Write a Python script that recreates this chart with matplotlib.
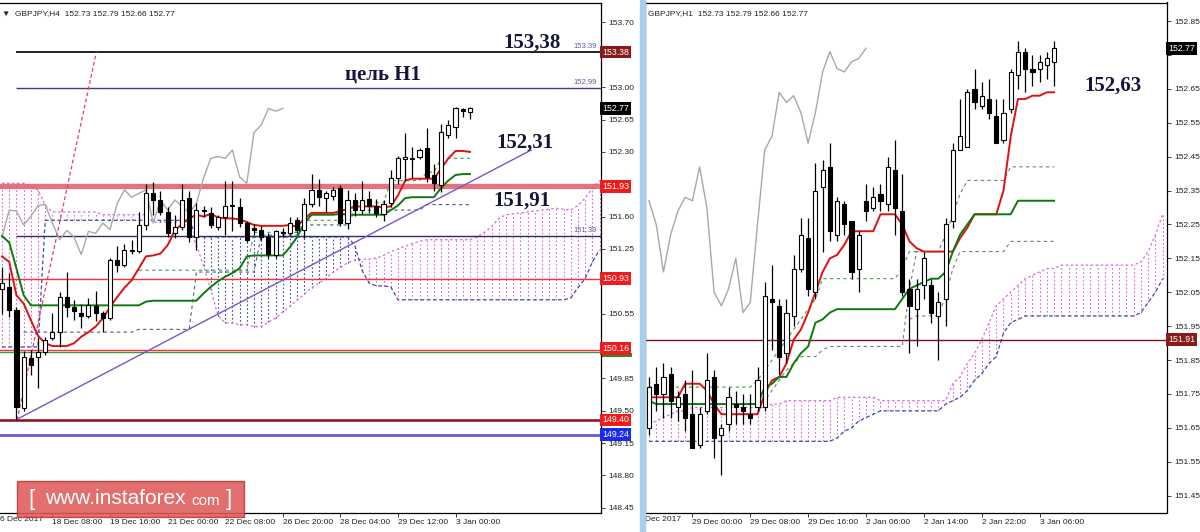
import matplotlib
matplotlib.use("Agg")
import matplotlib.pyplot as plt
import numpy as np
from matplotlib.patches import Rectangle

plt.rcParams["font.family"] = ["Liberation Sans", "DejaVu Sans"]

# ---------------- GBPJPY H4 (left panel) ----------------
h4_open = [150.82, 150.84, 150.59, 149.53, 150.07, 150.08, 150.13, 150.29, 150.35, 150.73,
           150.62, 150.56, 150.53, 150.63, 150.56, 150.50, 151.13, 151.08, 151.24, 151.23,
           151.51, 151.85, 151.78, 151.65, 151.42, 151.49, 151.80, 151.38, 151.67, 151.64,
           151.49, 151.60, 151.72, 151.70, 151.53, 151.48, 151.45, 151.38, 151.18, 151.43,
           151.42, 151.56, 151.46, 151.74, 151.89, 151.80, 151.82, 151.91, 151.53, 151.78,
           151.67, 151.79, 151.71, 151.63, 151.75, 152.02, 152.22, 152.22, 152.25, 152.34,
           152.05, 151.94, 152.48, 152.57, 152.76, 152.73]
h4_high = [151.05, 150.99, 150.62, 150.15, 150.16, 150.29, 150.30, 150.56, 150.78, 151.00,
           150.70, 150.65, 150.72, 150.80, 150.58, 151.15, 151.28, 151.30, 151.35, 151.65,
           151.95, 151.97, 151.88, 151.70, 151.62, 151.95, 151.88, 151.75, 151.72, 151.70,
           151.62, 151.99, 151.99, 151.80, 151.55, 151.52, 151.50, 151.42, 151.46, 151.48,
           151.60, 151.60, 151.80, 152.06, 152.01, 151.88, 151.92, 151.94, 151.89, 151.86,
           151.99, 151.88, 151.79, 151.78, 152.10, 152.26, 152.50, 152.35, 152.34, 152.56,
           152.17, 152.60, 152.64, 152.79, 152.77, 152.79]
h4_low = [150.55, 150.51, 149.40, 149.50, 149.89, 149.75, 150.10, 150.26, 150.19, 150.51,
          150.48, 150.40, 150.50, 150.47, 150.35, 150.48, 151.00, 151.05, 151.20, 151.21,
          151.46, 151.62, 151.62, 151.38, 151.37, 151.46, 151.33, 151.24, 151.60, 151.48,
          151.46, 151.40, 151.44, 151.49, 151.33, 151.40, 151.35, 151.15, 151.15, 151.38,
          151.40, 151.42, 151.37, 151.70, 151.72, 151.65, 151.78, 151.50, 151.47, 151.61,
          151.63, 151.64, 151.60, 151.55, 151.70, 151.95, 151.99, 152.02, 152.22, 151.97,
          151.88, 151.87, 152.45, 152.45, 152.68, 152.66]
h4_close = [150.88, 150.59, 149.54, 150.08, 149.99, 150.13, 150.26, 150.35, 150.73, 150.62,
            150.58, 150.53, 150.64, 150.56, 150.50, 151.13, 151.08, 151.24, 151.23, 151.51,
            151.85, 151.78, 151.65, 151.42, 151.49, 151.78, 151.38, 151.67, 151.66, 151.51,
            151.60, 151.72, 151.73, 151.53, 151.35, 151.45, 151.38, 151.19, 151.44, 151.42,
            151.53, 151.46, 151.74, 151.89, 151.81, 151.85, 151.89, 151.53, 151.78, 151.67,
            151.78, 151.71, 151.64, 151.74, 152.02, 152.23, 152.25, 152.23, 152.32, 152.03,
            151.96, 152.51, 152.59, 152.77, 152.74, 152.77]
h4_tenkan = [151.17, 151.11, 150.75, 150.66, 150.48, 150.31, 150.23, 150.20, 150.20, 150.20,
             150.23, 150.30, 150.35, 150.41, 150.50, 150.62, 150.73, 150.83, 150.91, 151.04,
             151.17, 151.18, 151.20, 151.29, 151.45, 151.52, 151.58, 151.62, 151.60, 151.63,
             151.59, 151.58, 151.58, 151.57, 151.54, 151.51, 151.50, 151.50, 151.50, 151.50,
             151.51, 151.49, 151.58, 151.64, 151.64, 151.64, 151.64, 151.66, 151.68, 151.71,
             151.71, 151.71, 151.71, 151.70, 151.71, 151.83, 151.99, 152.01, 152.01, 152.01,
             152.01, 152.12, 152.23, 152.31, 152.31, 152.30]
h4_kijun = [151.39, 151.32, 151.04, 150.75, 150.64, 150.64, 150.64, 150.64, 150.64, 150.64,
            150.64, 150.64, 150.64, 150.64, 150.64, 150.64, 150.64, 150.64, 150.64, 150.64,
            150.68, 150.69, 150.69, 150.69, 150.69, 150.69, 150.69, 150.69, 150.77, 150.84,
            150.90, 150.95, 150.99, 151.04, 151.17, 151.18, 151.18, 151.18, 151.18, 151.18,
            151.27, 151.38, 151.53, 151.62, 151.62, 151.62, 151.62, 151.63, 151.62, 151.62,
            151.62, 151.62, 151.62, 151.62, 151.67, 151.72, 151.80, 151.81, 151.81, 151.81,
            151.81, 151.91, 151.99, 152.05, 152.06, 152.06]
h4_span_a = [151.96, 151.96, 151.96, 151.96, 151.92, 151.89, 151.72, 151.65, 151.65, 151.65,
             151.65, 151.65, 151.65, 151.65, 151.62, 151.62, 151.62, 151.62, 151.62, 151.62,
             151.62, 151.54, 151.54, 151.54, 151.54, 151.54, 151.47, 151.29, 151.07, 150.81,
             150.53, 150.45, 150.45, 150.43, 150.43, 150.41, 150.41, 150.46, 150.50, 150.57,
             150.63, 150.70, 150.76, 150.83, 150.88, 150.93, 151.00, 151.05, 151.10, 151.13,
             151.14, 151.14, 151.15, 151.18, 151.22, 151.25, 151.28, 151.31, 151.33, 151.35,
             151.35, 151.35, 151.35, 151.35, 151.35, 151.35, 151.38, 151.43, 151.49, 151.58,
             151.62, 151.63, 151.64, 151.65, 151.66, 151.67, 151.68, 151.69, 151.68, 151.67,
             151.72, 151.80, 151.91, 151.99]
h4_span_b = [150.19, 150.19, 150.19, 150.19, 150.19, 150.19, 151.56, 151.56, 151.56, 151.56,
             151.56, 151.56, 151.56, 151.56, 151.56, 151.56, 151.56, 151.56, 151.56, 151.56,
             151.56, 151.56, 151.56, 151.56, 151.56, 151.56, 151.56, 151.38, 151.38, 151.38,
             151.38, 151.38, 151.38, 151.38, 151.38, 151.38, 151.38, 151.38, 151.38, 151.38,
             151.38, 151.38, 151.38, 151.38, 151.38, 151.38, 151.38, 151.38, 151.38, 151.29,
             151.02, 150.88, 150.85, 150.85, 150.84, 150.70, 150.70, 150.70, 150.70, 150.70,
             150.70, 150.70, 150.70, 150.70, 150.70, 150.70, 150.70, 150.70, 150.70, 150.70,
             150.70, 150.70, 150.70, 150.70, 150.70, 150.70, 150.70, 150.70, 150.70, 150.72,
             150.83, 150.93, 151.11, 151.24]
# dashed helper lines (first bar index, values)
h4_dash_dark_start = 3
h4_dash_dark = [150.35, 150.35, 150.35, 150.35, 150.35, 150.35, 150.35, 150.35, 150.35, 150.35,
                150.35, 150.35, 150.35, 150.35, 150.35, 150.35, 150.38, 150.38, 150.38, 150.38,
                150.38, 150.38, 150.38, 150.38, 151.00, 151.00, 151.00, 151.00, 151.00, 151.00,
                151.00, 151.00, 151.00, 151.40, 151.40, 151.40, 151.40, 151.40, 151.40, 151.51,
                151.51, 151.51, 151.51, 151.51, 151.51, 151.51, 151.67, 151.67, 151.67, 151.67,
                151.67, 151.67, 151.67, 151.67, 151.67, 151.67, 151.73, 151.73, 151.73, 151.73,
                151.73, 151.73, 151.73]
h4_dash_green_start = 19
h4_dash_green = [151.02, 151.02, 151.02, 151.02, 151.02, 151.02, 151.02, 151.02, 151.02, 151.02,
                 151.02, 151.02, 151.02, 151.02, 151.02, 151.02, 151.43, 151.43, 151.43, 151.43,
                 151.43, 151.43, 151.43, 151.56, 151.56, 151.56, 151.56, 151.56, 151.56, 151.56,
                 151.75, 151.75, 151.75, 151.75, 151.75, 151.99, 151.99, 151.99, 151.99, 151.99,
                 152.08, 152.08, 152.23, 152.23, 152.23, 152.23, 152.23]
h4_tick_pos = [7, 15, 23, 31, 39, 47, 55, 63]
h4_tick_labels = ["18 Dec 08:00", "19 Dec 16:00", "21 Dec 00:00", "22 Dec 08:00",
                  "26 Dec 20:00", "28 Dec 04:00", "29 Dec 12:00", "3 Jan 00:00"]
h4_yticks = [148.45, 148.80, 149.15, 149.50, 149.85, 150.20, 150.55, 150.90, 151.25,
             151.60, 151.95, 152.30, 152.65, 153.00, 153.35, 153.70]
h4_hidden_ticks = [150.20, 150.90, 151.95, 153.35]   # covered by the price tags
h4_levels = [153.38, 152.99, 151.93, 151.39, 150.93, 150.16, 150.13, 149.40, 149.24]
h4_level_tags = ["153.39", "152.99", "", "151.39", "", "", "", "", ""]

# ---------------- GBPJPY H1 (right panel) ----------------
h1_open = [151.65, 151.78, 151.75, 151.81, 151.71, 151.75, 151.69, 151.60, 151.70, 151.80,
           151.63, 151.66, 151.72, 151.71, 151.69, 151.71, 151.71, 152.03, 152.01, 151.87,
           151.98, 152.12, 152.21, 152.05, 152.36, 152.42, 152.22, 152.31, 152.26, 152.12,
           152.32, 152.30, 152.34, 152.31, 152.41, 152.29, 152.06, 152.00, 152.07, 152.07,
           151.98, 152.03, 152.26, 152.47, 152.48, 152.65, 152.60, 152.62, 152.57, 152.50,
           152.59, 152.69, 152.76, 152.71, 152.71, 152.72, 152.73]
h1_high = [151.80, 151.83, 151.84, 151.83, 151.76, 151.79, 151.82, 151.71, 151.87, 151.82,
           151.66, 151.77, 151.76, 151.75, 151.75, 151.83, 152.08, 152.13, 152.03, 152.03,
           152.16, 152.27, 152.27, 152.43, 152.44, 152.49, 152.33, 152.32, 152.26, 152.23,
           152.37, 152.36, 152.37, 152.45, 152.50, 152.40, 152.09, 152.09, 152.17, 152.09,
           152.05, 152.27, 152.49, 152.62, 152.65, 152.71, 152.67, 152.68, 152.62, 152.62,
           152.71, 152.79, 152.77, 152.75, 152.75, 152.76, 152.79]
h1_low = [151.63, 151.70, 151.68, 151.68, 151.67, 151.64, 151.59, 151.59, 151.69, 151.56,
          151.51, 151.64, 151.66, 151.66, 151.66, 151.70, 151.70, 151.88, 151.81, 151.84,
          151.95, 152.11, 152.04, 152.03, 152.17, 152.20, 152.20, 152.22, 152.09, 152.05,
          152.26, 152.29, 152.29, 152.29, 152.22, 152.04, 151.87, 151.89, 152.03, 151.96,
          151.85, 151.95, 152.24, 152.47, 152.48, 152.59, 152.59, 152.56, 152.49, 152.49,
          152.58, 152.65, 152.64, 152.66, 152.67, 152.68, 152.66]
h1_close = [151.77, 151.75, 151.80, 151.73, 151.74, 151.68, 151.59, 151.69, 151.79, 151.62,
            151.65, 151.74, 151.71, 151.70, 151.68, 151.79, 152.04, 152.02, 151.86, 151.99,
            152.12, 152.22, 152.06, 152.35, 152.41, 152.23, 152.32, 152.25, 152.11, 152.22,
            152.29, 152.33, 152.32, 152.42, 152.30, 152.05, 152.01, 152.06, 152.15, 151.99,
            152.02, 152.25, 152.47, 152.51, 152.64, 152.61, 152.63, 152.58, 152.49, 152.58,
            152.70, 152.76, 152.71, 152.70, 152.73, 152.74, 152.77]
h1_tenkan = [151.74, 151.74, 151.74, 151.74, 151.74, 151.78, 151.78, 151.78, 151.76, 151.72,
             151.69, 151.69, 151.69, 151.69, 151.69, 151.69, 151.75, 151.79, 151.80, 151.84,
             151.91, 151.94, 151.99, 152.05, 152.11, 152.15, 152.16, 152.19, 152.23, 152.23,
             152.23, 152.23, 152.28, 152.28, 152.28, 152.25, 152.20, 152.18, 152.17, 152.17,
             152.17, 152.17, 152.17, 152.21, 152.24, 152.28, 152.28, 152.28, 152.28, 152.35,
             152.51, 152.62, 152.62, 152.63, 152.63, 152.64, 152.64]
h1_kijun = [151.73, 151.72, 151.72, 151.72, 151.72, 151.72, 151.72, 151.72, 151.72, 151.72,
            151.72, 151.72, 151.72, 151.72, 151.72, 151.72, 151.77, 151.78, 151.80, 151.80,
            151.84, 151.87, 151.89, 151.96, 151.97, 151.99, 152.00, 152.00, 152.00, 152.00,
            152.00, 152.00, 152.00, 152.00, 152.00, 152.03, 152.06, 152.07, 152.08, 152.09,
            152.09, 152.11, 152.17, 152.22, 152.25, 152.28, 152.28, 152.28, 152.28, 152.28,
            152.28, 152.32, 152.32, 152.32, 152.32, 152.32, 152.32]
h1_span_a = [151.66, 151.67, 151.68, 151.69, 151.70, 151.70, 151.71, 151.71, 151.71, 151.71,
             151.71, 151.71, 151.71, 151.71, 151.71, 151.71, 151.71, 151.72, 151.72, 151.73,
             151.73, 151.73, 151.73, 151.73, 151.73, 151.73, 151.74, 151.74, 151.74, 151.74,
             151.74, 151.74, 151.73, 151.73, 151.73, 151.73, 151.73, 151.73, 151.73, 151.73,
             151.73, 151.73, 151.78, 151.80, 151.84, 151.87, 151.91, 151.96, 152.01, 152.03,
             152.05, 152.07, 152.09, 152.10, 152.11, 152.12, 152.12, 152.13, 152.13, 152.13,
             152.13, 152.13, 152.13, 152.13, 152.13, 152.13, 152.13, 152.13, 152.14, 152.17,
             152.22, 152.28]
h1_span_b = [151.61, 151.61, 151.61, 151.61, 151.61, 151.61, 151.61, 151.61, 151.61, 151.61,
             151.61, 151.61, 151.61, 151.61, 151.61, 151.61, 151.61, 151.61, 151.61, 151.61,
             151.61, 151.61, 151.61, 151.61, 151.61, 151.61, 151.62, 151.64, 151.65, 151.67,
             151.68, 151.69, 151.70, 151.70, 151.70, 151.70, 151.70, 151.70, 151.70, 151.70,
             151.70, 151.72, 151.73, 151.74, 151.76, 151.79, 151.81, 151.84, 151.86, 151.93,
             151.96, 151.97, 151.98, 151.98, 151.98, 151.98, 151.98, 151.98, 151.98, 151.98,
             151.98, 151.98, 151.98, 151.98, 151.98, 151.98, 151.98, 151.98, 151.99, 152.02,
             152.05, 152.09]
h1_dash_upper_start = 15
h1_dash_upper = [151.71, 151.73, 151.76, 151.79, 151.82, 151.84, 151.86, 151.86, 151.86, 151.88,
                 151.89, 151.89, 151.89, 151.89, 151.89, 151.89, 151.89, 151.89, 151.89, 151.89,
                 151.89, 152.06, 152.17, 152.17, 152.17, 152.17, 152.22, 152.28, 152.34, 152.38,
                 152.38, 152.38, 152.38, 152.38, 152.38, 152.42, 152.42, 152.42, 152.42, 152.42,
                 152.42, 152.42]
h1_dash_lower_start = 36
h1_dash_lower = [151.97, 151.98, 151.98, 151.98, 151.98, 152.04, 152.12, 152.17, 152.17, 152.17,
                 152.17, 152.17, 152.17, 152.17, 152.20, 152.20, 152.20, 152.20, 152.20, 152.20,
                 152.20]
h1_dash_green_start = 0
h1_dash_green = [151.77, 151.77, 151.77, 151.77, 151.77, 151.77, 151.77, 151.77, 151.77, 151.77,
                 151.77, 151.77, 151.77, 151.77, 151.77, 151.79, 151.82, 151.85, 151.88, 151.91,
                 151.94, 151.97, 152.00, 152.03, 152.09, 152.09, 152.09, 152.09, 152.09, 152.09,
                 152.09, 152.09, 152.09, 152.09, 152.09, 152.12, 152.17, 152.17, 152.17, 152.17,
                 152.17]
h1_tick_pos = [6, 14, 22, 30, 38, 46, 54]
h1_tick_labels = ["29 Dec 00:00", "29 Dec 08:00", "29 Dec 16:00", "2 Jan 06:00",
                  "2 Jan 14:00", "2 Jan 22:00", "3 Jan 06:00"]
h1_yticks = [151.45, 151.55, 151.65, 151.75, 151.85, 151.95, 152.05, 152.15, 152.25,
             152.35, 152.45, 152.55, 152.65, 152.75, 152.85]
h1_hidden_ticks = [152.75]
h1_level = 151.91


def draw_candles(ax, o, h, l, c):
    x = np.arange(len(o))
    o, h, l, c = (np.array(v) for v in (o, h, l, c))
    ax.vlines(x, l, h, color="black", lw=0.9, zorder=5)
    up = c >= o
    lo = np.minimum(o, c)
    hgt = np.maximum(np.abs(c - o), 0.004)
    ax.bar(x[up], hgt[up], 0.58, lo[up], color="white", edgecolor="black", lw=0.8, zorder=6)
    ax.bar(x[~up], hgt[~up], 0.58, lo[~up], color="black", edgecolor="black", lw=0.8, zorder=6)


def draw_cloud(ax, a, b):
    x = np.arange(len(a))
    a, b = np.array(a), np.array(b)
    bull = a >= b
    ax.vlines(x[bull], b[bull], a[bull], colors="#e066e0", linestyles=(0, (1.5, 2)), lw=0.8, zorder=1)
    ax.vlines(x[~bull], a[~bull], b[~bull], colors="#3a4ab0", linestyles=(0, (1.5, 2)), lw=0.8, zorder=1)
    ax.plot(x, a, color="#e066e0", ls=(0, (2, 2)), lw=0.9, zorder=1)
    ax.plot(x, b, color="#3a4ab0", ls=(0, (3, 2)), lw=0.9, zorder=1)


def draw_ichimoku(ax, o, h, l, c, tenkan, kijun, span_a, span_b):
    draw_cloud(ax, span_a, span_b)
    cl = np.array(c)
    xs = np.arange(len(cl)) - 26
    ax.plot(xs[26:], cl[26:], color="#a8a8a8", lw=1.0, zorder=3)
    ax.plot(np.arange(len(tenkan)), tenkan, color="#e01010", lw=1.4, zorder=4)
    ax.plot(np.arange(len(kijun)), kijun, color="#0b7a0b", lw=1.4, zorder=4)
    draw_candles(ax, o, h, l, c)


def draw_dashed(ax, start, vals, color):
    ax.plot(np.arange(start, start + len(vals)), vals, color=color, ls=(0, (3, 3)), lw=0.8, zorder=2)


def price_box(ax, y, text, fc, tc="white"):
    ax.text(1.002, y, text, transform=ax.get_yaxis_transform(), fontsize=6.3, color=tc,
            va="center", ha="left", zorder=20, clip_on=False,
            bbox=dict(boxstyle="square,pad=0.22", fc=fc, ec="none"))


def style_axes(ax, yticks, hidden, tick_pos, tick_labels):
    ax.yaxis.tick_right()
    ax.set_yticks(yticks)
    ax.set_yticklabels(["" if v in hidden else "%.2f" % v for v in yticks])
    ax.set_xticks(tick_pos)
    ax.set_xticklabels(tick_labels, ha="left")
    ax.tick_params(axis="y", length=3, width=0.6, pad=2, labelsize=6, colors="#222222")
    ax.tick_params(axis="x", length=3, width=0.6, pad=1.5, labelsize=6, colors="#222222")
    for s in ax.spines.values():
        s.set_linewidth(0.9)
        s.set_color("black")


fig = plt.figure(figsize=(12, 5.32), dpi=100)
fig.patch.set_facecolor("white")
bottom = (532 - 512.5) / 532
height = (512.5 - 2.5) / 532
ax1 = fig.add_axes([0.0, bottom, 601 / 1200, height])
ax2 = fig.add_axes([645 / 1200, bottom, (1167 - 645) / 1200, height])

# ---------- left panel ----------
ax1.set_xlim(-0.28, 83.2)
ax1.set_ylim(148.399, 153.916)
draw_dashed(ax1, h4_dash_dark_start, h4_dash_dark, "#505a78")
draw_dashed(ax1, h4_dash_green_start, h4_dash_green, "#4a9a4a")
draw_ichimoku(ax1, h4_open, h4_high, h4_low, h4_close, h4_tenkan, h4_kijun, h4_span_a, h4_span_b)

lvl_style = [("#101010", 1.3, 1.9), ("#3c3c8c", 1.0, 1.9), ("#e05a6a", 3.8, -1),
             ("#2c2c70", 1.0, 1.9), ("#ff3030", 1.0, -1), ("#ff3030", 1.0, -1),
             ("#3a9a3a", 1.0, -1), ("#8a0a20", 1.8, -1), ("#6a5acd", 2.0, -1)]
for v, tag, (col, lw, x0) in zip(h4_levels, h4_level_tags, lvl_style):
    ax1.hlines(v, x0, 84, color=col, lw=lw, zorder=2, alpha=0.85 if lw > 3 else 1)
    if tag:
        ax1.text(82.6, v + 0.02, tag, fontsize=5.5, color="#5a5aa8", ha="right", va="bottom", zorder=3)

# trend lines
ax1.plot([1.9, 73.5], [149.40, 152.32], color="#7b55cc", lw=1.0, zorder=3)
ax1.plot([2.1, 13.1], [149.40, 153.38], color="#e0406a", lw=0.9, ls=(0, (3, 2)), zorder=3)

style_axes(ax1, h4_yticks, h4_hidden_ticks, h4_tick_pos, h4_tick_labels)
ax1.spines["left"].set_visible(False)
ax1.text(0.0, -0.006, "6 Dec 2017", transform=ax1.transAxes, fontsize=6, color="#222222",
         ha="left", va="top")

# green tag peeking out under the 150.16 tag
ax1.add_patch(Rectangle((1.002, 150.085), 0.05, 0.04, transform=ax1.get_yaxis_transform(),
                        fc="#2a8a2a", ec="none", zorder=19, clip_on=False))
price_box(ax1, 153.38, "153.38", "#8b1a1a")
price_box(ax1, 152.77, "152.77", "black")
price_box(ax1, 151.93, "151.93", "#ee1c1c")
price_box(ax1, 150.93, "150.93", "#ee1c1c")
price_box(ax1, 150.17, "150.16", "#ee1c1c")
price_box(ax1, 149.40, "149.40", "#ee1c1c")
price_box(ax1, 149.24, "149.24", "#1a2aee")

ax1.text(0.004, 0.985, "\u25bc  GBPJPY,H4  152.73 152.79 152.66 152.77", transform=ax1.transAxes,
         fontsize=6, color="#222222", ha="left", va="top")

ann = dict(fontsize=15, fontweight="bold", color="#15153a", ha="center", va="center",
           family=["Liberation Serif", "DejaVu Serif"], zorder=8)
ax1.text(73.6, 153.48, "153,38", **ann)
ax1.text(52.9, 153.14, "цель H1", **ann)
ax1.text(72.6, 152.40, "152,31", **ann)
ax1.text(72.2, 151.77, "151,91", **ann)

# ---------- right panel ----------
ax2.set_xlim(-0.55, 71.6)
ax2.set_ylim(151.400, 152.905)
draw_dashed(ax2, h1_dash_green_start, h1_dash_green, "#4a9a4a")
draw_dashed(ax2, h1_dash_upper_start, h1_dash_upper, "#7a7a7a")
draw_dashed(ax2, h1_dash_lower_start, h1_dash_lower, "#7a7a7a")
draw_ichimoku(ax2, h1_open, h1_high, h1_low, h1_close, h1_tenkan, h1_kijun, h1_span_a, h1_span_b)
ax2.axhline(h1_level, color="#7a1020", lw=1.0, zorder=2)
style_axes(ax2, h1_yticks, h1_hidden_ticks, h1_tick_pos, h1_tick_labels)
ax2.text(0.0, -0.006, "Dec 2017", transform=ax2.transAxes, fontsize=6, color="#222222",
         ha="left", va="top")
price_box(ax2, 152.77, "152.77", "black")
price_box(ax2, h1_level, "151.91", "#8b1a1a")
ax2.text(0.006, 0.985, "GBPJPY,H1  152.73 152.79 152.66 152.77", transform=ax2.transAxes,
         fontsize=6, color="#222222", ha="left", va="top")
ax2.text(64.2, 152.66, "152,63", **ann)

# separator strip between panels
fig.patches.append(Rectangle((640 / 1200, 0), 5 / 1200, 1, transform=fig.transFigure,
                             color="#a9d0ea", zorder=0))

# watermark
fig.patches.append(Rectangle((17 / 1200, (532 - 517) / 532), 227 / 1200, 36 / 532,
                             transform=fig.transFigure, fc="#e05a5a", ec="#b83a3a",
                             alpha=0.88, zorder=30))
wy = (532 - 499) / 532
fig.text(28 / 1200, wy, "[", fontsize=16, color="white", va="center", ha="left", zorder=31)
fig.text(45 / 1200, wy, "www.instaforex", fontsize=15, color="white", va="center", ha="left", zorder=31)
fig.text(191 / 1200, wy - 0.003, "com", fontsize=11, color="white", va="center", ha="left", zorder=31)
fig.text(226 / 1200, wy, "]", fontsize=16, color="white", va="center", ha="left", zorder=31)

fig.savefig("out.png", dpi=100)
